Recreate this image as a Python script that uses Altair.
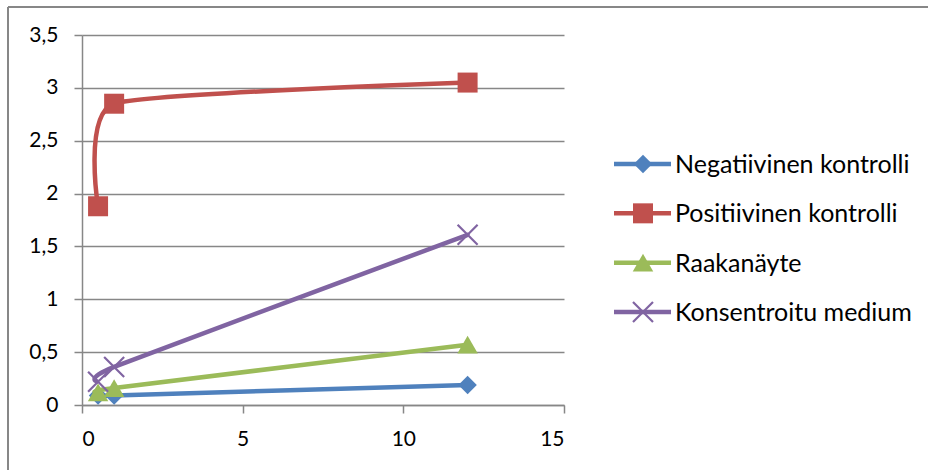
import altair as alt
import pandas as pd

series = ["Negatiivinen kontrolli", "Positiivinen kontrolli", "Raakanäyte", "Konsentroitu medium"]
x_values = [0.5, 1, 12]
negatiivinen = [0.09, 0.09, 0.19]
positiivinen = [1.88, 2.85, 3.05]
raakanayte = [0.12, 0.16, 0.57]
konsentroitu = [0.22, 0.36, 1.61]
colors = ["#4F81BD", "#C0504D", "#9BBB59", "#8064A2"]
shapes = ["diamond", "square", "triangle-up", "M-1,-1L1,1M-1,1L1,-1"]
y_ticks = [0, 0.5, 1, 1.5, 2, 2.5, 3, 3.5]
x_ticks = [0, 5, 10, 15]

FONT = "Lato"
GRAY = "#878787"
W, H = 482, 370
LEFT, TOP = 82, 35
SIZES = [340, 400, 420, 400]

values = [negatiivinen, positiivinen, raakanayte, konsentroitu]
rows = []
for s, vals in zip(series, values):
    for x, y in zip(x_values, vals):
        rows.append({"series": s, "x": x, "y": y})
df = pd.DataFrame(rows)

color_scale = alt.Scale(domain=series, range=colors)
x_enc = alt.X("x:Q", scale=alt.Scale(domain=[0, 15], nice=False),
              axis=alt.Axis(values=x_ticks, title=None, grid=False, tickSize=8,
                            labelPadding=15, format="d"))
y_enc = alt.Y("y:Q", scale=alt.Scale(domain=[0, 3.5], nice=False),
              axis=alt.Axis(values=y_ticks, title=None, grid=True, tickSize=8,
                            labelPadding=16,
                            labelExpr="replace(format(datum.value, '~g'), '.', ',')"))


def marker(base, i, x=None, y=None):
    enc = dict(color=alt.Color("series:N", scale=color_scale, legend=None))
    enc["x"] = x if x is not None else alt.X("x:Q")
    enc["y"] = y if y is not None else alt.Y("y:Q")
    if i == 3:
        return base.mark_point(shape=shapes[i], size=SIZES[i], filled=False,
                               strokeWidth=2.2, opacity=1).encode(**enc)
    return base.mark_point(shape=shapes[i], size=SIZES[i], filled=True, opacity=1).encode(**enc)


layers = []
for i, s in enumerate(series):
    base = alt.Chart(df).transform_filter(alt.datum.series == s)
    line = base.mark_line(interpolate="cardinal", tension=0.5, strokeWidth=4.5).encode(
        x=x_enc, y=y_enc,
        color=alt.Color("series:N", scale=color_scale, legend=None))
    layers += [line, marker(base, i)]

main = alt.layer(*layers)

leg_df = pd.DataFrame({"series": series})
leg_y = alt.Y("series:N", sort=series, axis=None,
              scale=alt.Scale(type="point", domain=series, range=[164 - TOP, 312 - TOP], padding=0))
leg_color = alt.Color("series:N", scale=color_scale, legend=None)
leg_base = alt.Chart(leg_df)
leg_layers = [
    leg_base.mark_rule(strokeWidth=4.5).encode(
        x=alt.value(614 - LEFT), x2=alt.value(671 - LEFT), y=leg_y, color=leg_color),
]
for i, s in enumerate(series):
    b = leg_base.transform_filter(alt.datum.series == s)
    leg_layers.append(marker(b, i, x=alt.value(643 - LEFT), y=leg_y))
leg_layers.append(leg_base.mark_text(align="left", baseline="middle", font=FONT, fontSize=25,
                                     color="#000000", dy=1).encode(
    x=alt.value(675 - LEFT), y=leg_y, text="series:N"))
legend = alt.layer(*leg_layers)

border_top = alt.Chart(leg_df).mark_rule(color=GRAY, strokeWidth=1.5).encode(
    x=alt.value(8 - LEFT), x2=alt.value(928 - LEFT), y=alt.value(7 - TOP))
border_left = alt.Chart(leg_df).mark_rule(color=GRAY, strokeWidth=1.5).encode(
    x=alt.value(8 - LEFT), y=alt.value(7 - TOP), y2=alt.value(470 - TOP))

chart = alt.layer(main, legend, border_top, border_left).resolve_scale(y="independent").properties(
    width=W, height=H,
    autosize=alt.AutoSizeParams(type="none"),
    padding={"left": LEFT, "top": TOP, "right": 928 - LEFT - W, "bottom": 470 - TOP - H},
    background="#ffffff",
).configure_view(stroke=None).configure_axis(
    labelFont=FONT, labelFontSize=21, labelColor="#000000",
    domainColor=GRAY, domainWidth=1.5, tickColor=GRAY, tickWidth=1.5,
    gridColor=GRAY, gridWidth=1.5, gridOpacity=1,
)

chart.save("out.html", embed_options={"renderer": "svg", "actions": False})
